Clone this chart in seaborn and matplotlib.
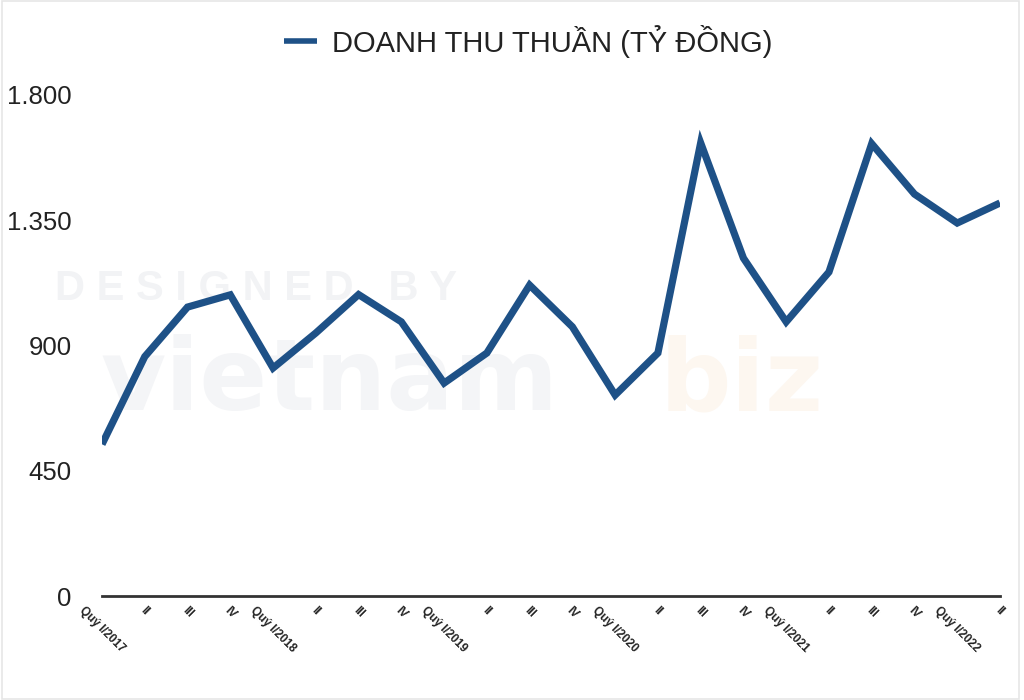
import matplotlib
matplotlib.use("Agg")
import matplotlib.pyplot as plt
import seaborn as sns
import pandas as pd
from matplotlib.ticker import FuncFormatter
from matplotlib.patches import Rectangle

quarters = ["Quý I/2017", "II", "III", "IV",
            "Quý I/2018", "II", "III", "IV",
            "Quý I/2019", "II", "III", "IV",
            "Quý I/2020", "II", "III", "IV",
            "Quý I/2021", "II", "III", "IV",
            "Quý I/2022", "II"]
revenue = [545, 860, 1038, 1082,
           819, 945, 1083, 985,
           765, 873, 1117, 967,
           722, 873, 1628, 1214,
           985, 1164, 1625, 1444,
           1340, 1412]
series_name = "DOANH THU THUẦN (TỶ ĐỒNG)"
y_ticks = [0, 450, 900, 1350, 1800]

sns.set_theme(style="white")
plt.rcParams['font.family'] = ['Liberation Sans', 'DejaVu Sans']

df = pd.DataFrame({"pos": range(len(quarters)), "value": revenue, "series": series_name})

fig = plt.figure(figsize=(10.24, 7.0), dpi=100)

# faint watermark (drawn behind the chart axes)
wm = fig.add_axes([0, 0, 1, 1], zorder=0)
wm.axis("off")
wm.set_xlim(0, 1)
wm.set_ylim(0, 1)
wm.add_patch(Rectangle((0.002, 0.002), 0.993, 0.996, fill=False,
                       edgecolor='#e6e6e6', linewidth=1.2, transform=wm.transAxes))
wm.text(55/1024, 1 - 300/700, "D E S I G N E D   B Y", fontsize=30, fontweight='bold',
        color='#f2f3f5', va='baseline', ha='left', transform=wm.transAxes)
wm.text(100/1024, 1 - 410/700, "vietnam", fontsize=72, fontweight='bold',
        family='DejaVu Sans', color='#f4f5f7', va='baseline', ha='left',
        transform=wm.transAxes)
wm.text(660/1024, 1 - 410/700, "biz", fontsize=72, fontweight='bold',
        family='DejaVu Sans', color='#fdf7f0', va='baseline', ha='left',
        transform=wm.transAxes)

ax = fig.add_axes([102/1024, 1 - 596/700, (1000 - 102)/1024, (596 - 95)/700], zorder=2)

line_color = "#1e5187"
sns.lineplot(data=df, x="pos", y="value", ax=ax, color=line_color,
             linewidth=5.2, label=series_name, solid_joinstyle='miter',
             solid_capstyle='butt')

ax.set_xlim(0, len(quarters) - 1)
ax.set_ylim(0, 1800)
ax.set_yticks(y_ticks)
ax.yaxis.set_major_formatter(FuncFormatter(lambda v, p: f"{int(v):,}".replace(",", ".")))
ax.set_xticks(range(len(quarters)))
ax.set_xticklabels(quarters, rotation=-45, ha='center', va='top',
                   fontsize=8.5, fontweight='bold', color='#222222')
ax.tick_params(axis='y', labelsize=18.5, colors='#222222', length=0, pad=22)
ax.tick_params(axis='x', length=0, pad=6)
for lbl in ax.get_yticklabels():
    lbl.set_color('#222222')
ax.set_xlabel("")
ax.set_ylabel("")
ax.patch.set_alpha(0)
for s in ["top", "right", "left"]:
    ax.spines[s].set_visible(False)
ax.spines["bottom"].set_color("#333333")
ax.spines["bottom"].set_linewidth(2)

leg = ax.legend(loc='center', bbox_to_anchor=(528/1024, 1 - 41/700),
                bbox_transform=fig.transFigure, frameon=False, fontsize=21,
                handlelength=1.15, handletextpad=0.5)
for h in leg.get_lines():
    h.set_linewidth(4)
for t in leg.get_texts():
    t.set_color('#222222')

fig.savefig("out.png", dpi=100)
